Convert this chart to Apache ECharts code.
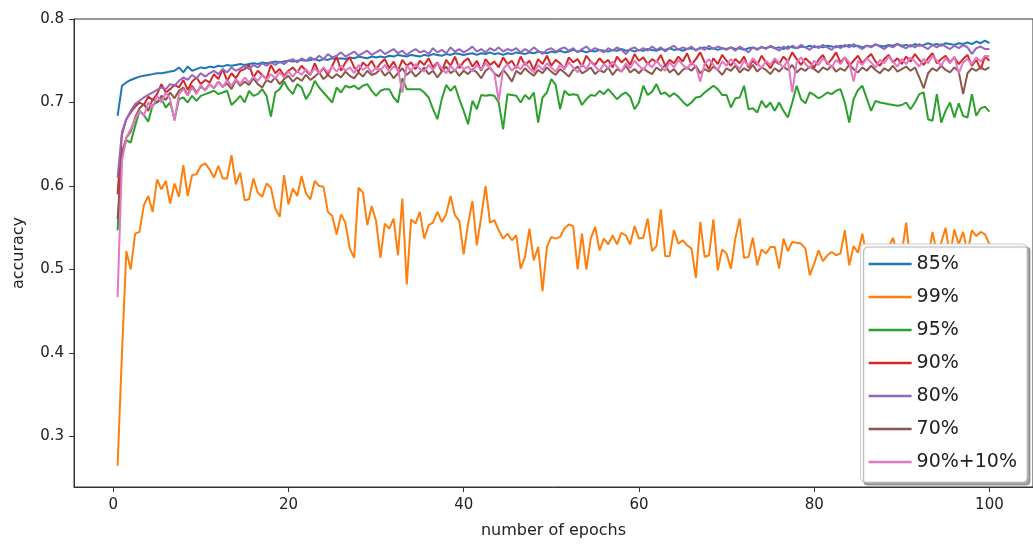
<!DOCTYPE html>
<html>
<head>
<meta charset="utf-8">
<script src="https://cdn.jsdelivr.net/npm/echarts@6/dist/echarts.min.js"></script>
<style>
  html, body { margin: 0; padding: 0; background: #fff; }
  #chart { width: 1033px; height: 544px; }
</style>
</head>
<body>
<div id="chart"></div>
<script>
// accuracy per half epoch, 0.5 .. 100 (200 points per run)
const acc85 = [
  0.684,0.720,0.724,0.727,0.729,0.731,0.732,0.733,0.734,0.735,
  0.735,0.736,0.737,0.738,0.742,0.736,0.743,0.738,0.740,0.742,
  0.741,0.743,0.742,0.744,0.743,0.745,0.744,0.745,0.746,0.745,
  0.746,0.747,0.746,0.748,0.747,0.748,0.749,0.748,0.749,0.750,
  0.749,0.750,0.751,0.750,0.751,0.752,0.750,0.752,0.751,0.753,
  0.752,0.753,0.752,0.754,0.753,0.755,0.754,0.753,0.755,0.754,
  0.755,0.754,0.756,0.755,0.757,0.756,0.755,0.757,0.756,0.755,
  0.757,0.756,0.758,0.757,0.756,0.758,0.757,0.759,0.758,0.757,
  0.758,0.759,0.757,0.759,0.758,0.760,0.758,0.759,0.757,0.759,
  0.758,0.760,0.759,0.758,0.760,0.759,0.761,0.760,0.759,0.761,
  0.760,0.762,0.760,0.761,0.763,0.761,0.762,0.760,0.762,0.761,
  0.763,0.762,0.761,0.763,0.762,0.764,0.762,0.763,0.761,0.763,
  0.762,0.764,0.763,0.762,0.764,0.763,0.765,0.763,0.764,0.762,
  0.764,0.765,0.763,0.765,0.766,0.764,0.765,0.763,0.765,0.764,
  0.766,0.764,0.765,0.763,0.765,0.766,0.764,0.766,0.765,0.767,
  0.765,0.766,0.764,0.767,0.766,0.765,0.767,0.766,0.768,0.766,
  0.767,0.766,0.768,0.767,0.766,0.768,0.767,0.769,0.767,0.768,
  0.766,0.768,0.767,0.769,0.768,0.767,0.769,0.768,0.770,0.768,
  0.769,0.767,0.770,0.768,0.769,0.771,0.769,0.770,0.768,0.771,
  0.770,0.769,0.771,0.770,0.772,0.770,0.773,0.771,0.774,0.771
];
const acc99 = [
  0.265,0.400,0.522,0.500,0.543,0.545,0.577,0.588,0.569,0.608,
  0.596,0.606,0.579,0.603,0.587,0.625,0.588,0.613,0.614,0.624,
  0.627,0.620,0.610,0.624,0.609,0.609,0.637,0.602,0.616,0.583,
  0.584,0.609,0.592,0.587,0.603,0.598,0.573,0.563,0.613,0.578,
  0.597,0.588,0.612,0.591,0.584,0.606,0.600,0.599,0.569,0.564,
  0.542,0.566,0.556,0.525,0.514,0.598,0.592,0.553,0.576,0.558,
  0.514,0.555,0.549,0.561,0.517,0.585,0.482,0.560,0.555,0.569,
  0.537,0.553,0.556,0.569,0.557,0.566,0.588,0.565,0.558,0.518,
  0.555,0.582,0.529,0.563,0.600,0.556,0.559,0.547,0.537,0.543,
  0.535,0.541,0.501,0.515,0.549,0.511,0.527,0.474,0.527,0.539,
  0.537,0.539,0.549,0.554,0.552,0.500,0.543,0.500,0.537,0.551,
  0.523,0.537,0.530,0.541,0.530,0.544,0.541,0.530,0.552,0.537,
  0.538,0.561,0.522,0.528,0.572,0.516,0.516,0.547,0.531,0.535,
  0.529,0.525,0.490,0.557,0.515,0.517,0.560,0.499,0.524,0.519,
  0.501,0.537,0.561,0.514,0.515,0.538,0.505,0.524,0.519,0.527,
  0.527,0.501,0.537,0.522,0.533,0.532,0.531,0.525,0.493,0.507,
  0.523,0.510,0.517,0.521,0.517,0.519,0.547,0.505,0.528,0.520,
  0.543,0.515,0.530,0.505,0.522,0.510,0.527,0.538,0.515,0.520,
  0.556,0.505,0.525,0.518,0.530,0.512,0.545,0.520,0.532,0.550,
  0.515,0.548,0.530,0.545,0.520,0.547,0.540,0.545,0.542,0.530
];
const acc95 = [
  0.547,0.640,0.655,0.652,0.672,0.690,0.685,0.677,0.697,0.700,
  0.704,0.694,0.700,0.680,0.704,0.706,0.700,0.708,0.702,0.708,
  0.710,0.712,0.714,0.710,0.712,0.714,0.697,0.702,0.708,0.700,
  0.714,0.708,0.710,0.716,0.708,0.683,0.712,0.716,0.725,0.716,
  0.710,0.722,0.718,0.704,0.712,0.726,0.718,0.712,0.706,0.700,
  0.718,0.712,0.720,0.718,0.720,0.716,0.720,0.722,0.714,0.708,
  0.714,0.716,0.716,0.706,0.700,0.729,0.716,0.716,0.716,0.716,
  0.712,0.706,0.692,0.680,0.704,0.721,0.714,0.720,0.704,0.690,
  0.674,0.702,0.692,0.709,0.708,0.709,0.708,0.700,0.668,0.710,
  0.709,0.708,0.700,0.709,0.704,0.712,0.676,0.706,0.712,0.728,
  0.721,0.692,0.714,0.709,0.710,0.709,0.697,0.704,0.709,0.708,
  0.714,0.710,0.716,0.710,0.704,0.709,0.712,0.707,0.692,0.700,
  0.720,0.709,0.713,0.722,0.710,0.712,0.707,0.711,0.707,0.701,
  0.696,0.700,0.706,0.707,0.712,0.716,0.720,0.716,0.709,0.709,
  0.694,0.705,0.706,0.720,0.692,0.693,0.688,0.702,0.694,0.700,
  0.690,0.700,0.690,0.682,0.700,0.720,0.704,0.699,0.712,0.709,
  0.705,0.708,0.712,0.710,0.714,0.716,0.700,0.676,0.704,0.715,
  0.720,0.705,0.690,0.702,0.700,0.699,0.698,0.697,0.696,0.697,
  0.700,0.692,0.700,0.710,0.712,0.680,0.678,0.710,0.676,0.690,
  0.700,0.682,0.699,0.684,0.682,0.710,0.684,0.693,0.695,0.689
];
const acc90 = [
  0.590,0.662,0.680,0.688,0.695,0.700,0.697,0.707,0.703,0.710,
  0.722,0.712,0.716,0.721,0.718,0.727,0.715,0.725,0.730,0.722,
  0.727,0.724,0.734,0.728,0.740,0.726,0.735,0.729,0.738,0.740,
  0.745,0.730,0.738,0.733,0.728,0.745,0.735,0.740,0.732,0.738,
  0.742,0.736,0.744,0.738,0.733,0.747,0.735,0.741,0.733,0.744,
  0.755,0.738,0.748,0.754,0.742,0.737,0.748,0.743,0.750,0.740,
  0.747,0.752,0.741,0.749,0.738,0.751,0.744,0.748,0.740,0.750,
  0.745,0.753,0.742,0.748,0.737,0.751,0.744,0.755,0.741,0.749,
  0.753,0.743,0.750,0.738,0.752,0.745,0.749,0.742,0.754,0.746,
  0.750,0.741,0.755,0.745,0.750,0.739,0.752,0.746,0.756,0.744,
  0.751,0.747,0.740,0.754,0.748,0.752,0.743,0.756,0.749,0.745,
  0.753,0.747,0.751,0.742,0.755,0.748,0.753,0.745,0.758,0.750,
  0.754,0.746,0.752,0.748,0.757,0.744,0.751,0.747,0.755,0.749,
  0.759,0.745,0.752,0.760,0.748,0.740,0.753,0.746,0.757,0.750,
  0.744,0.752,0.747,0.755,0.742,0.750,0.745,0.756,0.748,0.741,
  0.750,0.746,0.755,0.749,0.760,0.752,0.745,0.753,0.748,0.742,
  0.751,0.757,0.746,0.752,0.760,0.748,0.754,0.744,0.750,0.756,
  0.747,0.753,0.758,0.749,0.744,0.752,0.757,0.748,0.753,0.746,
  0.755,0.749,0.758,0.751,0.745,0.753,0.759,0.747,0.752,0.756,
  0.748,0.754,0.746,0.752,0.757,0.744,0.751,0.740,0.755,0.750
];
const acc80 = [
  0.610,0.665,0.680,0.690,0.698,0.702,0.706,0.709,0.712,0.715,
  0.718,0.716,0.722,0.720,0.726,0.730,0.727,0.733,0.729,0.735,
  0.731,0.735,0.738,0.734,0.740,0.736,0.742,0.738,0.741,0.744,
  0.740,0.745,0.742,0.747,0.744,0.748,0.745,0.749,0.746,0.750,
  0.752,0.748,0.753,0.750,0.754,0.751,0.756,0.752,0.758,0.754,
  0.756,0.760,0.755,0.758,0.761,0.756,0.759,0.762,0.757,0.760,
  0.763,0.758,0.761,0.764,0.759,0.762,0.757,0.761,0.764,0.760,
  0.762,0.758,0.765,0.760,0.763,0.759,0.766,0.761,0.764,0.760,
  0.763,0.767,0.761,0.764,0.760,0.765,0.762,0.766,0.761,0.764,
  0.762,0.765,0.760,0.764,0.761,0.766,0.762,0.758,0.763,0.765,
  0.761,0.764,0.766,0.762,0.765,0.760,0.764,0.767,0.762,0.765,
  0.763,0.760,0.765,0.762,0.766,0.763,0.758,0.764,0.766,0.762,
  0.765,0.762,0.767,0.763,0.766,0.761,0.765,0.768,0.763,0.766,
  0.764,0.767,0.762,0.766,0.763,0.768,0.764,0.767,0.765,0.763,
  0.766,0.762,0.767,0.764,0.760,0.766,0.763,0.767,0.764,0.768,
  0.765,0.762,0.767,0.764,0.768,0.765,0.769,0.766,0.763,0.768,
  0.765,0.769,0.766,0.763,0.768,0.765,0.769,0.766,0.770,0.767,
  0.764,0.768,0.766,0.770,0.767,0.764,0.768,0.766,0.770,0.767,
  0.765,0.769,0.766,0.770,0.767,0.764,0.769,0.766,0.770,0.767,
  0.764,0.768,0.765,0.769,0.766,0.758,0.765,0.767,0.764,0.764
];
const acc70 = [
  0.560,0.640,0.658,0.665,0.682,0.693,0.698,0.690,0.704,0.700,
  0.708,0.703,0.712,0.705,0.714,0.718,0.709,0.720,0.712,0.719,
  0.715,0.722,0.717,0.725,0.719,0.723,0.716,0.727,0.720,0.725,
  0.721,0.729,0.722,0.718,0.727,0.724,0.730,0.722,0.728,0.732,
  0.725,0.730,0.726,0.733,0.727,0.731,0.736,0.728,0.733,0.729,
  0.734,0.730,0.737,0.732,0.729,0.736,0.731,0.738,0.733,0.735,
  0.740,0.732,0.737,0.729,0.735,0.741,0.733,0.738,0.731,0.736,
  0.742,0.734,0.738,0.730,0.737,0.743,0.735,0.739,0.732,0.738,
  0.734,0.740,0.736,0.729,0.738,0.742,0.735,0.731,0.739,0.733,
  0.725,0.738,0.734,0.741,0.736,0.732,0.739,0.735,0.742,0.737,
  0.733,0.740,0.736,0.731,0.739,0.743,0.735,0.738,0.742,0.734,
  0.739,0.736,0.742,0.733,0.740,0.737,0.744,0.736,0.740,0.735,
  0.741,0.737,0.734,0.742,0.738,0.745,0.736,0.740,0.733,0.739,
  0.742,0.738,0.744,0.735,0.740,0.737,0.743,0.739,0.733,0.741,
  0.738,0.744,0.736,0.741,0.738,0.745,0.737,0.742,0.739,0.734,
  0.741,0.737,0.743,0.739,0.745,0.736,0.741,0.738,0.743,0.740,
  0.736,0.742,0.739,0.744,0.737,0.741,0.738,0.745,0.740,0.736,
  0.742,0.738,0.744,0.739,0.735,0.741,0.738,0.744,0.737,0.740,
  0.743,0.738,0.742,0.730,0.717,0.735,0.741,0.738,0.744,0.739,
  0.736,0.742,0.737,0.710,0.735,0.741,0.738,0.742,0.739,0.742
];
const acc90p10 = [
  0.467,0.630,0.658,0.668,0.680,0.690,0.684,0.700,0.694,0.708,
  0.700,0.712,0.704,0.678,0.710,0.716,0.708,0.718,0.710,0.721,
  0.714,0.722,0.717,0.725,0.718,0.727,0.720,0.728,0.722,0.730,
  0.724,0.731,0.726,0.733,0.727,0.734,0.729,0.736,0.730,0.737,
  0.731,0.738,0.733,0.740,0.734,0.741,0.735,0.742,0.736,0.743,
  0.737,0.744,0.738,0.742,0.735,0.745,0.739,0.743,0.736,0.742,
  0.738,0.745,0.737,0.743,0.740,0.712,0.744,0.738,0.746,0.740,
  0.737,0.745,0.739,0.747,0.741,0.735,0.744,0.738,0.746,0.740,
  0.743,0.737,0.745,0.739,0.747,0.741,0.735,0.702,0.740,0.746,
  0.738,0.744,0.740,0.748,0.741,0.736,0.745,0.739,0.747,0.742,
  0.737,0.745,0.740,0.748,0.742,0.736,0.746,0.740,0.749,0.743,
  0.738,0.746,0.741,0.749,0.743,0.737,0.747,0.741,0.750,0.744,
  0.739,0.747,0.742,0.750,0.744,0.738,0.748,0.742,0.751,0.745,
  0.740,0.748,0.743,0.725,0.746,0.752,0.745,0.739,0.749,0.744,
  0.752,0.746,0.740,0.750,0.744,0.753,0.747,0.741,0.750,0.745,
  0.753,0.747,0.742,0.751,0.712,0.748,0.754,0.746,0.741,0.750,
  0.745,0.753,0.748,0.742,0.751,0.746,0.754,0.748,0.725,0.750,
  0.745,0.753,0.748,0.742,0.751,0.747,0.755,0.749,0.743,0.752,
  0.746,0.754,0.749,0.743,0.752,0.747,0.756,0.750,0.744,0.753,
  0.747,0.755,0.735,0.748,0.752,0.746,0.754,0.749,0.756,0.755
];

const seriesNames = ['85%', '99%', '95%', '90%', '80%', '70%', '90%+10%'];
const seriesColors = ['#1f77b4', '#ff7f0e', '#2ca02c', '#d62728', '#9467bd', '#8c564b', '#e377c2'];
const seriesValues = [acc85, acc99, acc95, acc90, acc80, acc70, acc90p10];
const xTicks = [0, 20, 40, 60, 80, 100];
const yTicks = [0.3, 0.4, 0.5, 0.6, 0.7, 0.8];

const font = 'DejaVu Sans';
const myChart = echarts.init(document.getElementById('chart'), null, { renderer: 'canvas' });

myChart.setOption({
  animation: false,
  backgroundColor: '#fff',
  textStyle: { fontFamily: font },
  grid: {
    left: 74,
    top: 19,
    right: -6,
    bottom: 54,
    show: true,
    borderColor: '#333',
    borderWidth: 1,
    backgroundColor: 'transparent'
  },
  xAxis: {
    type: 'value',
    min: -4.475,
    max: 104.975,
    name: 'number of epochs',
    nameLocation: 'middle',
    nameGap: 36,
    nameTextStyle: { fontSize: 16, color: '#222', fontFamily: font },
    axisLine: { show: true, onZero: false, lineStyle: { color: '#333', width: 1 } },
    axisTick: { show: true, length: 5, customValues: xTicks, lineStyle: { color: '#333' } },
    axisLabel: {
      customValues: xTicks,
      margin: 11,
      fontSize: 15,
      color: '#222',
      fontFamily: font
    },
    splitLine: { show: false }
  },
  yAxis: {
    type: 'value',
    min: 0.2395,
    max: 0.8,
    name: 'accuracy',
    nameLocation: 'middle',
    nameGap: 47,
    nameTextStyle: { fontSize: 16, color: '#222', fontFamily: font },
    axisLine: { show: true, onZero: false, lineStyle: { color: '#333', width: 1 } },
    axisTick: { show: true, length: 5, customValues: yTicks, lineStyle: { color: '#333' } },
    axisLabel: {
      customValues: yTicks,
      margin: 10,
      fontSize: 15,
      color: '#222',
      fontFamily: font,
      formatter: v => v.toFixed(1)
    },
    splitLine: { show: false }
  },
  legend: {
    orient: 'vertical',
    right: 6,
    bottom: 62,
    icon: 'rect',
    itemWidth: 43,
    itemHeight: 2.5,
    itemGap: 11,
    padding: [9, 10, 9, 8],
    backgroundColor: '#fff',
    borderColor: '#ccc',
    borderWidth: 1,
    borderRadius: 4,
    shadowColor: 'rgba(0,0,0,0.35)',
    shadowBlur: 1,
    shadowOffsetX: 3,
    shadowOffsetY: 3,
    textStyle: { fontSize: 19, lineHeight: 22, color: '#222', fontFamily: font },
    data: seriesNames
  },
  series: seriesNames.map((name, i) => ({
    name: name,
    type: 'line',
    showSymbol: false,
    symbol: 'none',
    color: seriesColors[i],
    lineStyle: { width: 2, color: seriesColors[i] },
    data: seriesValues[i].map((v, j) => [(j + 1) * 0.5, v])
  }))
});
</script>
</body>
</html>
